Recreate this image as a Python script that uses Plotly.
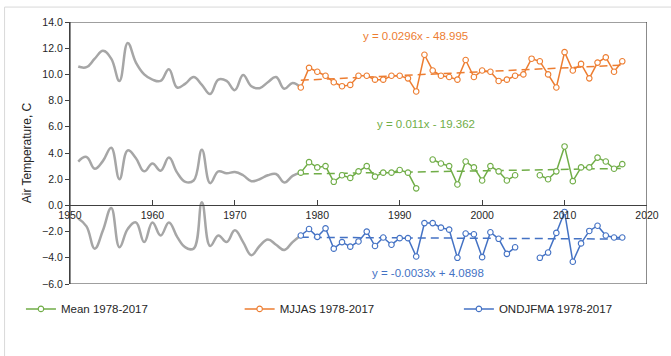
import plotly.graph_objects as go

# ---- data -------------------------------------------------------------
years_hist = list(range(1951, 1978))          # reconstructed series, 1951-1977
mjjas_hist = [10.6, 10.55, 11.2, 11.8, 11.2, 9.5, 12.4, 10.9, 10.0, 9.6,
              9.5, 10.4, 9.0, 9.3, 9.8, 9.2, 8.5, 9.6, 9.5, 8.8,
              9.95, 9.1, 8.95, 9.4, 9.8, 8.9, 9.35]
mean_hist = [3.35, 3.7, 2.8, 3.4, 4.4, 2.0, 4.2, 3.6, 2.6, 3.2,
             2.65, 3.65, 2.5, 1.8, 1.9, 4.25, 1.7, 2.6, 2.45, 2.55,
             2.3, 1.85, 2.0, 2.3, 2.4, 1.75, 2.25]
ondjfma_hist = [-1.0, -1.6, -3.3, -1.9, -0.2, -3.2, -1.8, -1.3, -2.8, -1.3,
                -2.3, -1.3, -2.4, -3.2, -3.3, 0.25, -3.1, -2.3, -2.8, -1.9,
                -2.8, -3.8, -3.1, -2.6, -3.0, -3.4, -2.8]

years = list(range(1978, 2018))               # observed series, 1978-2017
mean_obs = [2.5, 3.3, 2.9, 3.0, 1.8, 2.3, 2.1, 2.6, 3.0, 2.2,
            2.5, 2.5, 2.7, 2.5, 1.3, None, 3.5, 3.2, 3.0, 1.6,
            3.35, 2.9, 1.9, 3.0, 2.6, 1.9, 2.3, None, None, 2.3,
            2.0, 2.6, 4.5, 1.85, 2.9, 2.9, 3.65, 3.35, 2.8, 3.15]
mjjas_obs = [9.0, 10.5, 10.2, 9.9, 9.4, 9.1, 9.2, 9.9, 9.9, 9.6,
             9.6, 9.9, 9.9, 9.7, 8.7, 11.5, 10.3, 9.9, 9.8, 9.6,
             11.1, 9.8, 10.3, 10.2, 9.5, 9.6, 9.9, 10.0, 11.2, 11.0,
             10.0, 9.0, 11.7, 10.3, 10.8, 9.7, 10.9, 11.3, 10.2, 11.0]
ondjfma_obs = [-2.3, -1.8, -2.4, -1.75, -3.3, -2.8, -3.15, -2.75, -2.0, -3.1,
               -2.45, -3.0, -2.5, -2.5, -3.9, -1.35, -1.35, -1.7, -1.85, -4.0,
               -2.15, -2.2, -3.95, -2.05, -2.55, -3.7, -3.2, None, None, -4.0,
               -3.6, -2.1, -0.5, -4.3, -2.9, -1.95, -1.55, -2.3, -2.45, -2.45]

# linear trends (slope, intercept) for 1978-2017
trend_mean = (0.011, -19.362)
trend_mjjas = (0.0296, -48.995)
trend_ondjfma = (-0.0033, 4.0898)

GREEN = "#70ad47"
ORANGE = "#ed7d31"
BLUE = "#4472c4"
GREY = "#a6a6a6"
FONT = "Liberation Sans, Arial, sans-serif"
TEXT = "#262626"

fig = go.Figure()

# grey smoothed lines for the earlier period, joined to the first observed year
for hist, obs in [(mjjas_hist, mjjas_obs), (mean_hist, mean_obs), (ondjfma_hist, ondjfma_obs)]:
    fig.add_trace(go.Scatter(
        x=years_hist + [years[0]], y=hist + [obs[0]],
        mode="lines", line=dict(color=GREY, width=2.5, shape="spline", smoothing=1.2),
        showlegend=False, hoverinfo="skip"))

# trend lines
for (a, b), color in [(trend_mjjas, ORANGE), (trend_mean, GREEN), (trend_ondjfma, BLUE)]:
    xs = [years[0], years[-1]]
    fig.add_trace(go.Scatter(
        x=xs, y=[a * x + b for x in xs], mode="lines",
        line=dict(color=color, width=1.5, dash="8px,5px"),
        showlegend=False, hoverinfo="skip"))

# observed series, each with its own legend box
for name, vals, color, leg in [("Mean 1978-2017", mean_obs, GREEN, "legend"),
                               ("MJJAS 1978-2017", mjjas_obs, ORANGE, "legend2"),
                               ("ONDJFMA 1978-2017", ondjfma_obs, BLUE, "legend3")]:
    fig.add_trace(go.Scatter(
        x=years, y=vals, name=name, mode="lines+markers",
        line=dict(color=color, width=1.5),
        marker=dict(symbol="circle", size=5.5, color="white",
                    line=dict(color=color, width=1.1)),
        connectgaps=False, legend=leg))

# trend equations
def eq_text(a, b):
    sign = "-" if b < 0 else "+"
    return f"y = {a:g}x {sign} {abs(b):g}"

for (a, b), color, xp, yp in [(trend_mjjas, ORANGE, 1991.9, 12.95),
                              (trend_mean, GREEN, 1993.2, 6.2),
                              (trend_ondjfma, BLUE, 1993.4, -5.15)]:
    fig.add_annotation(x=xp, y=yp, xref="x", yref="y", text=eq_text(a, b),
                       showarrow=False, font=dict(family=FONT, size=11.5, color=color))

# plot frame and light outer border
fig.add_shape(type="rect", xref="x", yref="y", x0=1950, x1=2020, y0=-6, y1=14,
              line=dict(color="#404040", width=1.2), layer="above")
fig.add_shape(type="rect", xref="paper", yref="paper",
              x0=-0.1134, x1=1.2, y0=-0.5, y1=1.057,
              line=dict(color="#d9d9d9", width=1), layer="below")

legend_common = dict(orientation="h", yanchor="middle", xanchor="left", y=-0.095,
                     font=dict(family=FONT, size=11.5, color=TEXT),
                     bgcolor="rgba(0,0,0,0)")

fig.update_layout(
    width=671, height=356,
    margin=dict(l=70, r=19, t=22, b=72),
    paper_bgcolor="white", plot_bgcolor="white",
    font=dict(family=FONT, size=10, color=TEXT),
    showlegend=True,
    legend=dict(x=-0.085, **legend_common),
    legend2=dict(x=0.294, **legend_common),
    legend3=dict(x=0.674, **legend_common),
    xaxis=dict(range=[1950, 2020], dtick=10, tick0=1950, showgrid=False, zeroline=False,
               anchor="free", position=0.3, showline=True, linecolor="#404040", linewidth=1.2,
               ticks="inside", ticklen=5, tickcolor="#404040",
               tickfont=dict(family=FONT, size=10.5, color=TEXT)),
    yaxis=dict(range=[-6, 14], dtick=2, tick0=-6, tickformat=".1f", showgrid=False,
               zeroline=False, showline=True, linecolor="#404040", linewidth=1.2,
               ticks="outside", ticklen=4, tickcolor="#404040",
               title=dict(text="Air Temperature, C", standoff=7,
                          font=dict(family=FONT, size=12, color=TEXT)),
               tickfont=dict(family=FONT, size=10.5, color=TEXT)),
)

fig.write_html("out.html")
